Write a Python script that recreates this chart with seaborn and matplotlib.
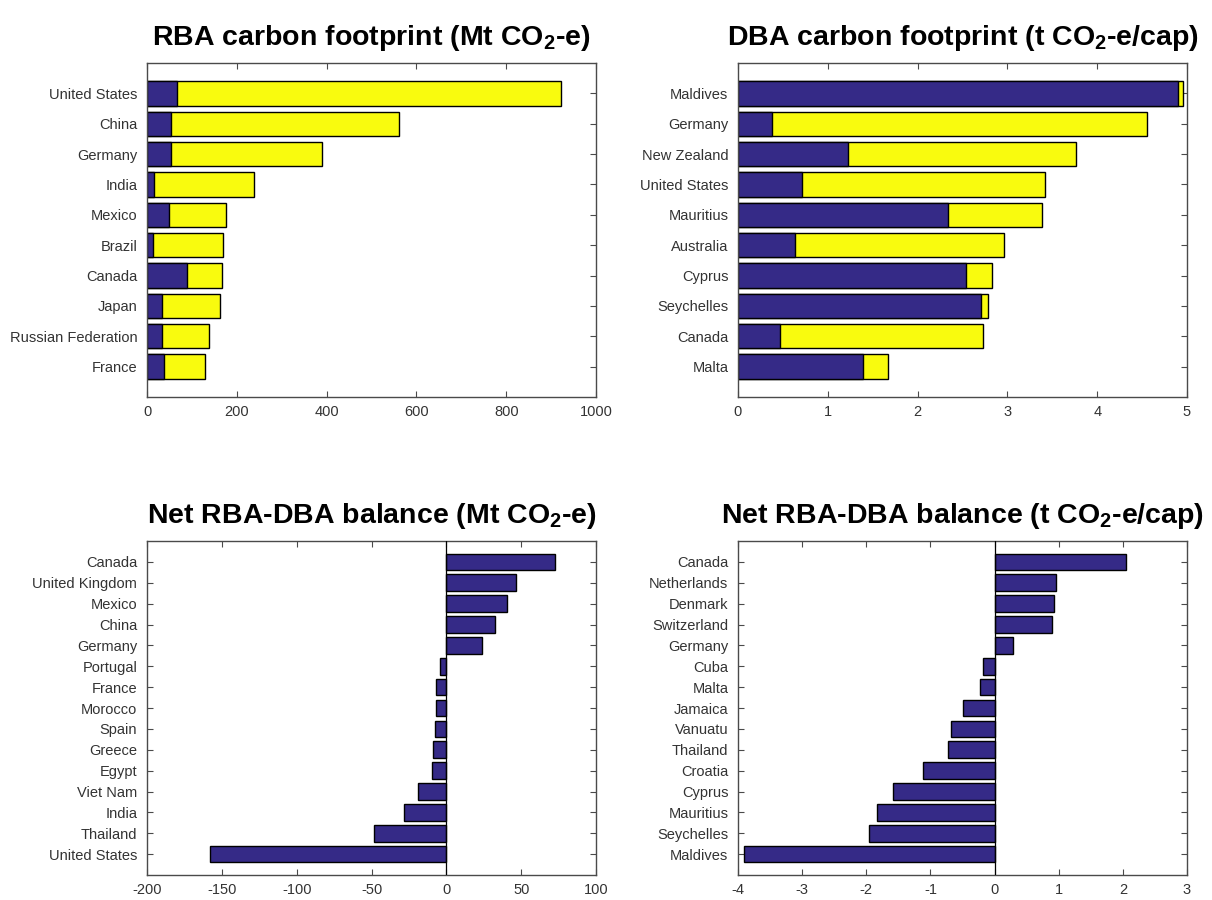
import matplotlib
matplotlib.use("Agg")
import matplotlib.pyplot as plt
import seaborn as sns
import numpy as np

# ---------------- data ----------------
rba_countries = ["United States", "China", "Germany", "India", "Mexico", "Brazil",
                 "Canada", "Japan", "Russian Federation", "France"]
rba_blue = [67, 53, 54, 16, 50, 13, 90, 34, 34, 37]
rba_yellow = [854, 509, 336, 223, 125, 157, 77, 128, 105, 92]

dba_countries = ["Maldives", "Germany", "New Zealand", "United States", "Mauritius",
                 "Australia", "Cyprus", "Seychelles", "Canada", "Malta"]
dba_blue = [4.90, 0.38, 1.22, 0.71, 2.34, 0.64, 2.54, 2.71, 0.47, 1.39]
dba_yellow = [0.05, 4.17, 2.54, 2.71, 1.05, 2.32, 0.29, 0.07, 2.26, 0.28]

net_countries = ["Canada", "United Kingdom", "Mexico", "China", "Germany", "Portugal",
                 "France", "Morocco", "Spain", "Greece", "Egypt", "Viet Nam", "India",
                 "Thailand", "United States"]
net_values = [72.4, 46.4, 40.4, 32.5, 24.1, -4.0, -6.9, -7.0, -7.6, -9.1, -9.4,
              -19.2, -28.5, -48.1, -158.2]

netcap_countries = ["Canada", "Netherlands", "Denmark", "Switzerland", "Germany", "Cuba",
                    "Malta", "Jamaica", "Vanuatu", "Thailand", "Croatia", "Cyprus",
                    "Mauritius", "Seychelles", "Maldives"]
netcap_values = [2.05, 0.95, 0.92, 0.90, 0.29, -0.18, -0.23, -0.50, -0.68, -0.72,
                 -1.11, -1.58, -1.83, -1.96, -3.91]

titles = ["RBA carbon footprint (Mt CO$_2$-e)",
          "DBA carbon footprint (t CO$_2$-e/cap)",
          "Net RBA-DBA balance (Mt CO$_2$-e)",
          "Net RBA-DBA balance (t CO$_2$-e/cap)"]

BLUE = "#352a87"
YELLOW = "#f9fb0e"
AXCOL = "#4a4a4a"
TXTCOL = "#333333"

# ---------------- style ----------------
sns.set_style("white")
plt.rcParams["font.family"] = ["Liberation Sans", "DejaVu Sans"]
plt.rcParams["mathtext.fontset"] = "custom"
plt.rcParams["mathtext.rm"] = "Liberation Sans:bold"
plt.rcParams["mathtext.it"] = "Liberation Sans:bold"
plt.rcParams["mathtext.bf"] = "Liberation Sans:bold"
plt.rcParams["mathtext.default"] = "rm"

fig = plt.figure(figsize=(12.12, 9.0), dpi=100)
W, H = 1212.0, 900.0


def make_ax(x0, x1, ytop, ybot):
    return fig.add_axes([x0 / W, 1 - ybot / H, (x1 - x0) / W, (ybot - ytop) / H])


ax_tl = make_ax(147, 596, 63, 397)
ax_tr = make_ax(738, 1187, 63, 397)
ax_bl = make_ax(147, 596, 541, 875)
ax_br = make_ax(738, 1187, 541, 875)


def stacked(ax, cats, blue, yellow):
    total = list(np.array(blue) + np.array(yellow))
    sns.barplot(x=total, y=cats, orient="h", color=YELLOW, saturation=1,
                edgecolor="black", linewidth=1.0, width=0.8, ax=ax)
    sns.barplot(x=blue, y=cats, orient="h", color=BLUE, saturation=1,
                edgecolor="black", linewidth=1.0, width=0.8, ax=ax)


def single(ax, cats, vals):
    sns.barplot(x=vals, y=cats, orient="h", color=BLUE, saturation=1,
                edgecolor="black", linewidth=1.0, width=0.8, ax=ax)
    ax.axvline(0, color="black", lw=0.9, zorder=5)


stacked(ax_tl, rba_countries, rba_blue, rba_yellow)
stacked(ax_tr, dba_countries, dba_blue, dba_yellow)
single(ax_bl, net_countries, net_values)
single(ax_br, netcap_countries, netcap_values)

cfg = [
    (ax_tl, (0, 1000), np.arange(0, 1001, 200), len(rba_countries)),
    (ax_tr, (0, 5), np.arange(0, 6, 1), len(dba_countries)),
    (ax_bl, (-200, 100), np.arange(-200, 101, 50), len(net_countries)),
    (ax_br, (-4, 3), np.arange(-4, 4, 1), len(netcap_countries)),
]

for (ax, xl, xt, n), title in zip(cfg, titles):
    ax.set_xlim(*xl)
    ax.set_xticks(xt)
    ax.set_xticklabels([str(int(v)) for v in xt])
    ax.set_ylim(n, -1)
    ax.set_xlabel("")
    ax.set_ylabel("")
    ax.set_title(title, fontsize=20.5, fontweight="bold", pad=13, color="black")
    for sp in ax.spines.values():
        sp.set_visible(True)
        sp.set_color(AXCOL)
        sp.set_linewidth(1.0)
    ax.tick_params(axis="both", direction="in", top=True, right=True, bottom=True,
                   left=True, length=4, width=0.8, color=AXCOL,
                   labelsize=10.5, labelcolor=TXTCOL)
    ax.tick_params(axis="x", pad=6)
    ax.tick_params(axis="y", pad=7)

fig.savefig("out.png", dpi=100, facecolor="white")
